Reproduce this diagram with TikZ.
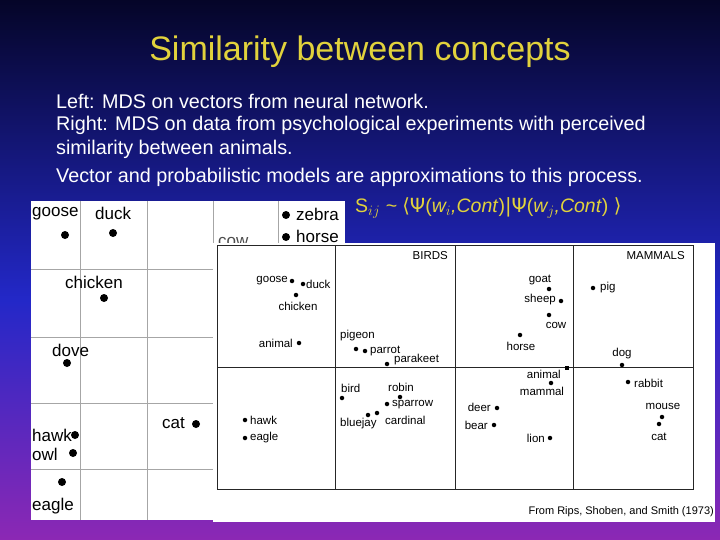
\documentclass[tikz,border=0pt]{standalone}
\usepackage{fontspec}
\setmainfont{Liberation Sans}
\newfontfamily\symf{DejaVu Sans}
\begin{document}
\begin{tikzpicture}[x=1pt,y=-1pt,
  txt/.style={font=\fontsize{19.8}{22}\selectfont,text=white,anchor=west,inner sep=0},
  big/.style={font=\fontsize{17}{19}\selectfont,inner sep=0},
  sm/.style={font=\fontsize{11.5}{13}\selectfont,inner sep=0},
  bd/.style={circle,fill=black,inner sep=0,minimum size=8pt},
  sd/.style={circle,fill=black,inner sep=0,minimum size=4.5pt},
  gl/.style={draw=gray!70,line width=0.6pt},
  bl/.style={draw=black!85,line width=0.9pt}]
\useasboundingbox (0,0) rectangle (720,540);
\shade[top color={rgb,255:red,5;green,5;blue,40},bottom color={rgb,255:red,35;green,40;blue,200}] (0,0) rectangle (720,300);
\shade[top color={rgb,255:red,35;green,40;blue,200},bottom color={rgb,255:red,140;green,40;blue,180}] (0,300) rectangle (720,540);
\node[font=\fontsize{34}{38}\selectfont,text={rgb,255:red,225;green,210;blue,60}] (title) at (360,52) {Similarity between concepts};
\node[txt] (l1) at (56,101) {Left: MDS on vectors from neural network.};
\node[txt] (l2) at (56,125) {Right: MDS on data from psychological experiments with perceived};
\node[txt] (l3) at (56,149) {similarity between animals.};
\node[txt] (l4) at (56,177) {Vector and probabilistic models are approximations to this process.};
\node[font=\fontsize{19.5}{21}\selectfont,text={rgb,255:red,225;green,210;blue,60},anchor=west,inner sep=0] (form) at (355,208) {S$_{ij}$ \textit{\char`~} {\symf⟨Ψ}(\textit{w$_i$,Cont}){\symf|Ψ}(\textit{w$_j$,Cont}) {\symf⟩}};
% left panel
\fill[white] (31,201) rectangle (345,520);
\foreach \x in {80,147,213,278} \draw[gl] (\x,201) -- (\x,520);
\foreach \y in {269,337,403,469} \draw[gl] (31,\y) -- (345,\y);
\node[big,anchor=west] (a1) at (32,214) {goose}; \node[bd] (d1) at (65,235) {};
\node[big,anchor=west] (a2) at (95,213) {duck}; \node[bd] (d2) at (113,233) {};
\node[big,anchor=west] (a3) at (65,282) {chicken}; \node[bd] (d3) at (104,298) {};
\node[big,anchor=west] (a4) at (52,350) {dove}; \node[bd] (d4) at (67,363) {};
\node[big,anchor=west] (a5) at (162,423) {cat}; \node[bd] (d5) at (196,424) {};
\node[big,anchor=west] (a6) at (32,435) {hawk}; \node[bd] (d6) at (75,435) {};
\node[big,anchor=west] (a7) at (32,454) {owl}; \node[bd] (d7) at (73,453) {};
\node[big,anchor=west] (a8) at (32,506) {eagle}; \node[bd] (d8) at (62,482) {};
\node[bd] (d9) at (286,215) {}; \node[big,anchor=west] (a9) at (296,214) {zebra};
\node[bd] (d10) at (286,237) {}; \node[big,anchor=west] (a10) at (296,236) {horse};
\node[big,anchor=west,gray!60!black] (a11) at (218,242) {cow};
% right panel
\fill[white] (213,243) rectangle (715,522);
\draw[bl] (217,245) rectangle (693,489);
\foreach \x in {335,455,573} \draw[bl] (\x,245) -- (\x,489);
\draw[bl] (217,367) -- (693,367);
\node[sm,anchor=east] (birds) at (448,256) {BIRDS};
\node[sm,anchor=east] (mam) at (685,256) {MAMMALS};
\node[sm,anchor=east] (b1) at (288,281) {goose}; \node[sd] (e1) at (292,281) {};
\node[sd] (e2) at (303,284) {}; \node[sm,anchor=west] (b2) at (306,284) {duck};
\node[sd] (e3) at (296,295) {}; \node[sm] (b3) at (298,306) {chicken};
\node[sm,anchor=east] (b4) at (293,343) {animal}; \node[sd] (e4) at (299,343) {};
\node[sm,anchor=west] (b5) at (340,336) {pigeon}; \node[sd] (e5) at (356,349) {};
\node[sd] (e6) at (365,351) {}; \node[sm,anchor=west] (b6) at (370,351) {parrot};
\node[sd] (e7) at (387,364) {}; \node[sm,anchor=west] (b7) at (394,360) {parakeet};
\node[sm] (b8) at (540,280) {goat}; \node[sd] (e8) at (549,289) {};
\node[sm,anchor=east] (b9) at (556,300) {sheep}; \node[sd] (e9) at (561,301) {};
\node[sd] (e10) at (549,315) {}; \node[sm] (b10) at (556,325) {cow};
\node[sd] (e11) at (520,335) {}; \node[sm] (b11) at (521,346) {horse};
\node[sd] (e12) at (593,288) {}; \node[sm,anchor=west] (b12) at (600,288) {pig};
\node[sm] (b13) at (622,354) {dog}; \node[sd] (e13) at (622,365) {};
\node[sm,anchor=east] (b14) at (561,374) {animal}; \node[fill=black,inner sep=0,minimum size=4pt] (e14) at (567,368) {};
\node[sd] (e15) at (551,383) {}; \node[sm] (b15) at (542,391) {mammal};
\node[sd] (e16) at (628,382) {}; \node[sm,anchor=west] (b16) at (634,383) {rabbit};
\node[sm] (b17) at (663,406) {mouse}; \node[sd] (e17) at (662,417) {};
\node[sd] (e18) at (659,424) {}; \node[sm] (b18) at (659,437) {cat};
\node[sm,anchor=west] (b19) at (341,388) {bird}; \node[sd] (e19) at (342,398) {};
\node[sm] (b20) at (401,387) {robin}; \node[sd] (e20) at (400,397) {};
\node[sd] (e21) at (387,404) {}; \node[sm,anchor=west] (b21) at (392,405) {sparrow};
\node[sd] (e22) at (377,413) {}; \node[sm,anchor=west] (b22) at (385,420) {cardinal};
\node[sd] (e23) at (368,415) {}; \node[sm,anchor=west] (b23) at (340,424) {bluejay};
\node[sm,anchor=east] (b24) at (491,407) {deer}; \node[sd] (e24) at (497,408) {};
\node[sm,anchor=east] (b25) at (488,425) {bear}; \node[sd] (e25) at (494,425) {};
\node[sm,anchor=east] (b26) at (545,438) {lion}; \node[sd] (e26) at (550,438) {};
\node[sd] (e27) at (245,420) {}; \node[sm,anchor=west] (b27) at (250,420) {hawk};
\node[sd] (e28) at (245,438) {}; \node[sm,anchor=west] (b28) at (250,438) {eagle};
\node[font=\fontsize{11}{12}\selectfont,anchor=east,inner sep=0] (src) at (714,512) {From Rips, Shoben, and Smith (1973)};
\end{tikzpicture}
\end{document}
